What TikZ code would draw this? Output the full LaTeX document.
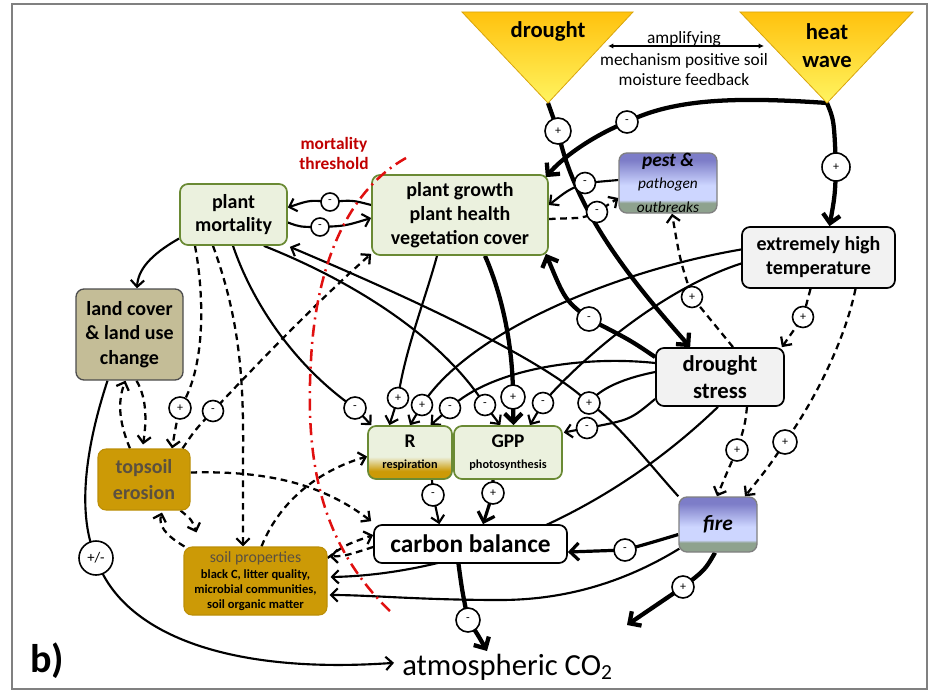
\documentclass[tikz,border=0pt]{standalone}
\usepackage{fontspec}
\setmainfont{Carlito}
\usetikzlibrary{arrows.meta,calc}
\pgfdeclarelayer{bg}
\pgfsetlayers{bg,main}
\definecolor{gfill}{HTML}{EBF1DE}
\definecolor{gbord}{HTML}{6A8A34}
\definecolor{trtop}{HTML}{FFC20E}
\definecolor{trbot}{HTML}{FFF460}
\definecolor{ptop}{HTML}{7D7DC8}
\definecolor{pmid}{HTML}{CDD6FF}
\definecolor{pbot}{HTML}{8EA28E}
\definecolor{landf}{HTML}{C4BD97}
\definecolor{goldf}{HTML}{CC9A06}
\definecolor{greyf}{HTML}{F2F2F2}
\definecolor{redl}{HTML}{E01010}
\definecolor{redt}{HTML}{C00000}
\definecolor{soilt}{HTML}{5A5040}
\pgfdeclareverticalshading{bluesh}{100bp}{color(0bp)=(pbot); color(33.5bp)=(pbot); color(36bp)=(pmid); color(48bp)=(pmid); color(69bp)=(ptop); color(100bp)=(ptop)}
\pgfdeclareverticalshading{rsh}{100bp}{color(0bp)=(goldf); color(32.5bp)=(goldf); color(46bp)=(gfill); color(100bp)=(gfill)}
\begin{document}
\begin{tikzpicture}[x=0.75pt,y=-0.75pt,
  every node/.style={inner sep=0pt},
  box/.style={draw, rounded corners=6pt, align=center, line width=1.3pt, font=\bfseries\fontsize{15}{18}\selectfont},
  grbox/.style={box, draw=gbord, fill=gfill},
  gybox/.style={box, draw=black, fill=greyf},
  bluebox/.style={box, draw=gray, line width=1pt, shade, shading=bluesh},
  goldbox/.style={box, draw=goldf!92!black, fill=goldf, line width=0.8pt},
  sgn/.style={circle, draw, fill=white, line width=1.2pt, minimum size=15.75pt, font=\fontsize{9}{9}\selectfont},
  ln/.style={line width=1.6pt},
  tk/.style={line width=3.2pt},
  md/.style={line width=2.4pt},
  ds/.style={line width=1.7pt, dash pattern=on 5pt off 3.5pt},
  ar/.style={-{Straight Barb[length=5pt,width=10pt]}},
  art/.style={-{Straight Barb[length=6.5pt,width=13pt]}}
]
\useasboundingbox (0,0) rectangle (932,692);
\draw[gray, line width=1.5pt] (12,4) rectangle (927,689);

% triangles
\path[top color=trtop, bottom color=trbot, draw=trtop!85!black, line width=0.6pt] (462,12) -- (633,12) -- (548,103) -- cycle;
\path[top color=trtop, bottom color=trbot, draw=trtop!85!black, line width=0.6pt] (740,12) -- (913,12) -- (827,103) -- cycle;
\coordinate (dA) at (548,103);
\coordinate (hA) at (827,103);
\node[font=\bfseries\fontsize{17}{21}\selectfont] (drought) at (548,31) {drought};
\node[font=\bfseries\fontsize{17}{21}\selectfont, align=center] (heat) at (827,46) {heat\\wave};
\node[anchor=base, font=\fontsize{13}{15}\selectfont] (amp1) at (684,44) {amplifying};
\node[anchor=base, font=\fontsize{13}{15}\selectfont] (amp2) at (684,65) {mechanism positive soil};
\node[anchor=base, font=\fontsize{13}{15}\selectfont] (amp3) at (684,85.5) {moisture feedback};
\coordinate (ampL) at (608,46);
\coordinate (ampR) at (764,46);
\draw[{Latex[length=4pt,width=4pt]}-{Latex[length=4pt,width=4pt]}, line width=0.8pt] (ampL) -- (ampR);

\node[font=\bfseries\fontsize{13}{15}\selectfont, text=redt, align=center] (mthr) at (334,153) {mortality\\threshold};

% boxes
\node[grbox, minimum width=80.25pt, minimum height=45.75pt, font=\bfseries\fontsize{15}{17.5}\selectfont] (mort) at (233.5,214.5) {plant\\mortality};
\node[grbox, minimum width=132pt, minimum height=60pt] (growth) at (460,215) {plant growth\\plant health\\vegetation cover};
\node[bluebox, minimum width=73.5pt, minimum height=45pt, align=center] (pest) at (668,183) {{\bfseries\itshape\fontsize{14.5}{15}\selectfont pest \&}\\[-1pt]{\mdseries\itshape\fontsize{11.5}{14}\selectfont pathogen}\\{\mdseries\itshape\fontsize{11.5}{14}\selectfont outbreaks}};
\node[gybox, minimum width=114.75pt, minimum height=45.75pt] (temp) at (818.5,257.5) {extremely high\\temperature};
\node[box, draw=gray!60!black, fill=landf, line width=1pt, minimum width=80.25pt, minimum height=68.25pt, font=\bfseries\fontsize{15}{18.5}\selectfont] (land) at (129.5,334.5) {land cover\\\& land use\\change};
\node[gybox, minimum width=96pt, minimum height=43.5pt, font=\bfseries\fontsize{17}{20}\selectfont] (dstress) at (720,377) {drought\\stress};
\node[box, draw=gbord, shade, shading=rsh, minimum width=63pt, minimum height=39.75pt, font=\bfseries\fontsize{14.5}{15}\selectfont] (R) at (410,452.5) {R\\[1pt]{\fontsize{9.2}{11}\selectfont respiration}};
\node[grbox, minimum width=81pt, minimum height=39.75pt, font=\bfseries\fontsize{14.5}{15}\selectfont] (GPP) at (508,452.5) {GPP\\[1pt]{\fontsize{9.2}{11}\selectfont photosynthesis}};
\node[goldbox, minimum width=69pt, minimum height=45.75pt, text=soilt, font=\bfseries\fontsize{15}{19}\selectfont] (topsoil) at (144,479.5) {topsoil\\erosion};
\node[goldbox, minimum width=107.25pt, minimum height=51pt, font=\bfseries\fontsize{9.4}{11.2}\selectfont] (soil) at (255.5,581) {{\mdseries\color{soilt}\fontsize{11.8}{13}\selectfont soil properties}\\[1pt]black C, litter quality,\\microbial communities,\\soil organic matter};
\node[box, draw=black, fill=white, minimum width=144.75pt, minimum height=28.5pt, font=\bfseries\fontsize{19}{20}\selectfont] (cb) at (470.5,544) {carbon balance};
\node[bluebox, minimum width=58.5pt, minimum height=41.25pt, font=\bfseries\itshape\fontsize{16}{18}\selectfont] (fire) at (718,524.5) {fire};
\node[anchor=base west, font=\fontsize{23}{26}\selectfont] (atm) at (402,675) {atmospheric CO\textsubscript{2}};
\node[anchor=base west, font=\bfseries\fontsize{30}{34}\selectfont] (lbl) at (30,672) {b)};
\coordinate (fireOut) at (627,625);
\coordinate (atmIn) at (487,651);

% sign circles
\node[sgn, minimum size=19.5pt] (sA) at (558,131) {+};
\node[sgn, minimum size=16.5pt] (sB) at (627,122) {-};
\node[sgn, minimum size=21pt] (sC) at (836,167) {+};
\node[sgn, minimum size=13.5pt] (sD) at (330,202) {-};
\node[sgn, minimum size=13.5pt] (sE) at (320,227) {-};
\node[sgn] (sF) at (585,183) {-};
\node[sgn] (sG) at (597,212) {-};
\node[sgn] (sH) at (692,297) {+};
\node[sgn] (sI) at (803,317) {+};
\node[sgn, minimum size=18pt] (sJ) at (785,442) {+};
\node[sgn, minimum size=16.5pt] (sK) at (737,450) {+};
\node[sgn, minimum size=16.5pt] (sL) at (625,550) {-};
\node[sgn, minimum size=16.5pt] (sM) at (683,587) {+};
\node[sgn, minimum size=18pt] (sN) at (468,620) {-};
\node[sgn, minimum size=16.5pt] (sO) at (433,495) {-};
\node[sgn, minimum size=16.5pt] (sP) at (493,493) {+};
\node[sgn, minimum size=25.5pt, font=\fontsize{11}{11}\selectfont] (sQ) at (96,558) {+/-};
\node[sgn, minimum size=16.5pt] (sR) at (180,408) {+};
\node[sgn] (sS) at (213,411) {-};
\node[sgn, minimum size=16.5pt] (sT) at (355,408) {-};
\node[sgn] (sU) at (398,398) {+};
\node[sgn] (sV) at (422,405) {+};
\node[sgn] (sW) at (450,408) {-};
\node[sgn] (sX) at (485,405) {-};
\node[sgn, minimum size=18pt] (sY) at (513,397) {+};
\node[sgn] (sZ) at (543,403) {-};
\node[sgn] (sAA) at (587,428) {-};
\node[sgn, minimum size=16.5pt] (sAB) at (589,403) {+};
\node[sgn, minimum size=18pt] (sAC) at (589,319) {-};

% red threshold line
\draw[redl, line width=1.9pt, dash pattern=on 9pt off 4pt on 1.5pt off 4pt]
  (406,158) .. controls (340,195) and (315,280) .. (311,360) .. controls (305,460) and (320,545) .. (392,613);

\begin{pgfonlayer}{bg}
% drought -> drought stress
\draw[tk, art] (dA) -- (sA.center) .. controls (575,215) and (640,290) .. ($(dstress.north west)!0.27!(dstress.north east)$);
% heat wave -> plant growth
\draw[tk, art] (hA) .. controls (740,97) and (675,98) .. (sB.center) .. controls (592,136) and (562,158) .. ($(growth.north east)+(-3,3)$);
% heat wave -> temperature
\draw[tk, art] (hA) .. controls (834,120) .. (sC.center) .. controls (835,195) .. ($(temp.north)+(11,0)$);
% growth <-> mortality
\draw[ln, ar] ($(growth.west)+(0,-10)$) .. controls (352,200) .. (sD.center) .. controls (310,200) .. ($(mort.east)+(0,-7)$);
\draw[ln, ar] ($(mort.east)+(0,8)$) .. controls (300,227) .. (sE.center) .. controls (345,226) .. ($(growth.west)+(0,3)$);
% pest <-> growth
\draw[ln, ar] ($(pest.west)+(0,-3)$) -- (sF.center) .. controls (568,190) .. ($(growth.east)+(0,-10)$);
\draw[ds, ar] ($(growth.east)+(0,4)$) -- (577,218) .. controls (585,217) .. (sG.center) -- ($(pest.west)+(0,15)$);
% drought stress -> pest
\draw[ds, ar] ($(dstress.north)+(13,0)$) .. controls (712,322) .. (sH.center) .. controls (680,260) .. ($(pest.south)+(4,0)$);
% temperature -> drought stress
\draw[ds, ar] ($(temp.south)+(-8,0)$) -- (sI.center) -- ($(dstress.north east)+(-3,0)$);
% temperature -> fire
\draw[ds, ar] ($(temp.south)+(37,0)$) .. controls (845,340) and (815,400) .. (sJ.center) .. controls (770,465) .. ($(fire.north)+(27,0)$);
% drought stress -> fire
\draw[ds, ar] ($(dstress.south)+(27,0)$) .. controls (745,425) .. (sK.center) .. controls (728,470) .. ($(fire.north)+(-1,0)$);
% fire -> carbon balance
\draw[md, art] ($(fire.west)+(0,10)$) .. controls (650,543) .. (sL.center) -- ($(cb.east)+(0,8)$);
% fire -> soil properties
\draw[ln, ar] ($(fire.south west)+(1,-4)$) .. controls (620,585) and (560,600) .. (500,600) .. controls (420,600) and (370,595) .. ($(soil.east)+(2,14)$);
% fire -> atmosphere
\draw[tk, art] ($(fire.south)+(-3,0)$) .. controls (705,570) .. (sM.center) -- (fireOut);
% drought stress -> soil properties (behind carbon balance)
\draw[ln, ar] ($(dstress.south)+(-2,0)$) .. controls (590,530) and (440,575) .. ($(soil.east)+(3,-4)$);
% carbon balance -> atmosphere
\draw[tk, art] ($(cb.south)+(-12,0)$) .. controls (462,590) .. (sN.center) .. controls (478,635) .. (atmIn);
% R, GPP -> carbon balance
\draw[ln, ar] ($(R.south)+(22,0)$) -- (sO.center) -- ($(cb.north west)!0.34!(cb.north east)$);
\draw[md, art] ($(GPP.south)+(-15,0)$) -- (sP.center) -- ($(cb.north)+(12.5,0)$);
% land cover -> atmosphere
\draw[ln, ar] ($(land.south)+(-22,0)$) .. controls (88,440) and (75,510) .. (sQ.center) .. controls (120,630) and (220,675) .. ($(atm.west)+(-8,-4)$);
% mortality -> land cover
\draw[ln, ar] ($(mort.west)+(0,24)$) .. controls (150,255) and (138,270) .. ($(land.north)+(7.5,0)$);
% mortality -> topsoil
\draw[ds, ar] ($(mort.south)+(-38.5,0)$) .. controls (205,300) and (205,370) .. (sR.center) .. controls (176,425) .. ($(topsoil.north)+(28,0)$);
% mortality -> soil properties
\draw[ds, ar] ($(mort.south)+(-20.5,0)$) .. controls (240,320) and (244,380) .. (243,460) -- ($(soil.north)+(-12.5,0)$);
% mortality -> R
\draw[ln, ar] ($(mort.south)+(-0.5,0)$) .. controls (255,310) and (300,370) .. (sT.center) -- ($(R.north west)!0.05!(R.north east)$);
% mortality -> GPP
\draw[ln, ar] ($(mort.south east)+(-24,0)$) .. controls (350,280) and (440,335) .. (sX.center) -- ($(GPP.north west)!0.43!(GPP.north east)$);
% fire -> mortality
\draw[ln, ar] (fire.north west) .. controls (650,465) and (615,420) .. (sAB.center) .. controls (540,355) and (380,285) .. ($(mort.south east)+(2,1)$);
\draw[ln] ($(dstress.west)+(0,-5)$) .. controls (625,378) and (600,388) .. (sAB.center);
% growth -> R, GPP
\draw[ln, ar] ($(growth.south)+(-23,0)$) .. controls (425,300) and (405,350) .. (sU.center) -- ($(R.north west)!0.26!(R.north east)$);
\draw[tk, art] ($(growth.south)+(25,0)$) .. controls (500,290) and (513,340) .. (sY.center) -- ($(GPP.north west)!0.55!(GPP.north east)$);
% temperature -> R, GPP
\draw[ln, ar] ($(temp.west)+(0,-8)$) .. controls (620,270) and (470,330) .. (sV.center) -- ($(R.north west)!0.5!(R.north east)$);
\draw[ln, ar] ($(temp.west)+(0,6)$) .. controls (660,290) and (580,360) .. (sZ.center) -- ($(GPP.north west)!0.7!(GPP.north east)$);
% drought stress -> R, GPP, growth
\draw[ln, ar] ($(dstress.west)+(0,-14)$) .. controls (580,355) and (490,370) .. (sW.center) -- ($(R.north west)!0.74!(R.north east)$);
\draw[ln, ar] ($(dstress.west)+(0,22)$) .. controls (630,420) .. (sAA.center) -- ($(GPP.east)+(1,-20)$);
\draw[tk, art] ($(dstress.west)+(0,-20)$) .. controls (630,340) .. (sAC.center) .. controls (565,300) .. ($(growth.south east)+(-3,-2)$);
% topsoil -> growth
\draw[ds, ar] ($(topsoil.north east)+(-8,0)$) .. controls (195,430) .. (sS.center) .. controls (270,350) and (330,290) .. ($(growth.south west)+(0,-2)$);
% land cover <-> topsoil
\draw[ds, ar] ($(topsoil.north)+(-14,0)$) .. controls (118,420) and (118,400) .. ($(land.south)+(-4,0)$);
\draw[ds, ar] ($(land.south)+(7,0)$) .. controls (148,400) and (146,425) .. ($(topsoil.north)+(-1,-4)$);
% topsoil <-> soil properties
\draw[ds, ar] ($(topsoil.south east)+(-10,0)$) .. controls (192,520) .. ($(soil.north west)+(13,-14)$);
\draw[ds, ar] ($(soil.north west)+(1,0)$) .. controls (165,535) and (158,525) .. ($(topsoil.south)+(18,2)$);
% soil -> R
\draw[ds, ar] ($(soil.north)+(6,0)$) .. controls (280,500) and (320,470) .. ($(R.west)+(0,4)$);
% topsoil -> carbon balance
\draw[ds, ar] ($(topsoil.east)+(0,-7)$) .. controls (280,470) and (330,490) .. ($(cb.north west)+(-2,-3)$);
% soil <-> carbon balance
\draw[ds, ar] ($(soil.east)+(0,-23)$) .. controls (345,545) .. ($(cb.west)+(0,-9)$);
\draw[ds, ar] ($(cb.west)+(0,3)$) .. controls (345,556) .. ($(soil.north east)+(2,10)$);
\end{pgfonlayer}
\end{tikzpicture}
\end{document}
